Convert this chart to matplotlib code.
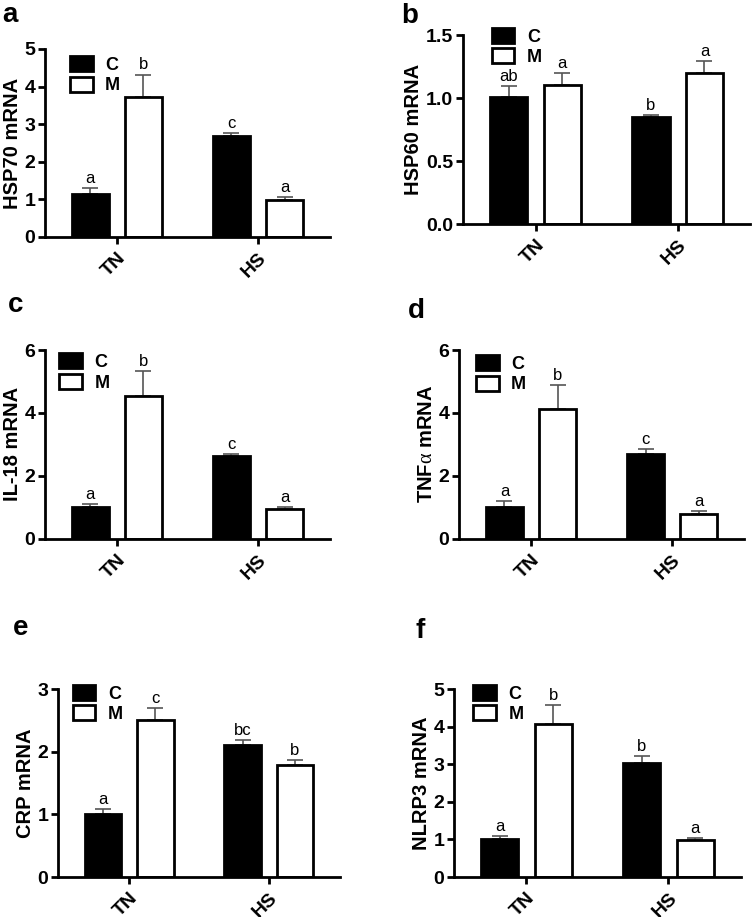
import matplotlib
matplotlib.use('Agg')
import matplotlib.pyplot as plt
from matplotlib.patches import Patch
import numpy as np

plt.rcParams['font.family'] = ['Liberation Sans', 'DejaVu Sans']
plt.rcParams['mathtext.fontset'] = 'custom'
plt.rcParams['mathtext.rm'] = 'Liberation Serif'
plt.rcParams['mathtext.it'] = 'Liberation Serif'

groups = ['TN', 'HS']
series = ['C', 'M']

# panel a - HSP70
hsp70_c = [1.14, 2.69]
hsp70_c_err = [0.16, 0.07]
hsp70_m = [3.73, 0.99]
hsp70_m_err = [0.59, 0.07]
hsp70_c_let = ['a', 'c']
hsp70_m_let = ['b', 'a']

# panel b - HSP60
hsp60_c = [1.005, 0.847]
hsp60_c_err = [0.09, 0.021]
hsp60_m = [1.10, 1.20]
hsp60_m_err = [0.096, 0.09]
hsp60_c_let = ['ab', 'b']
hsp60_m_let = ['a', 'a']

# panel c - IL-18
il18_c = [1.02, 2.62]
il18_c_err = [0.07, 0.06]
il18_m = [4.54, 0.94]
il18_m_err = [0.79, 0.08]
il18_c_let = ['a', 'c']
il18_m_let = ['b', 'a']

# panel d - TNFa
tnf_c = [1.02, 2.69]
tnf_c_err = [0.17, 0.17]
tnf_m = [4.14, 0.785]
tnf_m_err = [0.76, 0.085]
tnf_c_let = ['a', 'c']
tnf_m_let = ['b', 'a']

# panel e - CRP
crp_c = [1.01, 2.10]
crp_c_err = [0.08, 0.08]
crp_m = [2.51, 1.78]
crp_m_err = [0.18, 0.09]
crp_c_let = ['a', 'bc']
crp_m_let = ['c', 'b']

# panel f - NLRP3
nlrp3_c = [1.02, 3.03]
nlrp3_c_err = [0.06, 0.18]
nlrp3_m = [4.08, 0.975]
nlrp3_m_err = [0.49, 0.065]
nlrp3_c_let = ['a', 'b']
nlrp3_m_let = ['b', 'a']


def draw_panel(ax, c, c_err, m, m_err, c_let, m_let, ylabel, yticks,
               fmt, leg_xy):
    x = np.arange(len(groups))
    w = 0.262
    off = 0.188
    for vals, errs, lets, dx, fc in [(c, c_err, c_let, -off, 'black'),
                                     (m, m_err, m_let, off, 'white')]:
        ax.bar(x + dx, vals, w, color=fc, edgecolor='black', linewidth=2.0,
               zorder=2)
        ax.errorbar(x + dx, vals, yerr=[np.zeros(len(vals)), errs],
                    fmt='none', ecolor='#555555', elinewidth=1.2,
                    capsize=6, capthick=1.2, zorder=1)
        for xi, v, e, t in zip(x + dx, vals, errs, lets):
            ax.annotate(t, (xi, v + e), xytext=(0, 1.5),
                        textcoords='offset points', ha='center',
                        va='bottom', fontsize=12)
    ax.set_xlim(-0.51, 1.51)
    ax.set_ylim(0, yticks[-1])
    ax.set_yticks(yticks)
    ax.set_yticklabels([fmt.format(t) for t in yticks])
    ax.set_xticks(x)
    ax.set_xticklabels(groups, rotation=45, ha='right',
                       rotation_mode='anchor')
    for lab in ax.get_xticklabels() + ax.get_yticklabels():
        lab.set_fontweight('bold')
        lab.set_fontsize(14)
    ax.tick_params(axis='both', width=2, length=5, pad=2)
    ax.tick_params(axis='x', pad=4)
    for s in ['top', 'right']:
        ax.spines[s].set_visible(False)
    for s in ['left', 'bottom']:
        ax.spines[s].set_linewidth(2)
    ax.set_ylabel(ylabel, fontsize=14.5, fontweight='bold', labelpad=2)
    handles = [Patch(facecolor='black', edgecolor='black', linewidth=2),
               Patch(facecolor='white', edgecolor='black', linewidth=2)]
    ax.legend(handles, series, loc='upper left', bbox_to_anchor=leg_xy,
              frameon=False, borderpad=0, handlelength=1.25,
              handleheight=0.9, labelspacing=0.15, handletextpad=0.7,
              prop={'weight': 'bold', 'size': 13})


fig = plt.figure(figsize=(7.52, 9.17), dpi=100)

ax_a = fig.add_axes([0.0598, 0.7416, 0.379, 0.205])
draw_panel(ax_a, hsp70_c, hsp70_c_err, hsp70_m, hsp70_m_err, hsp70_c_let,
           hsp70_m_let, 'HSP70 mRNA', [0, 1, 2, 3, 4, 5], '{:d}',
           (0.056, 1.01))

ax_b = fig.add_axes([0.6157, 0.7557, 0.382, 0.2061])
draw_panel(ax_b, hsp60_c, hsp60_c_err, hsp60_m, hsp60_m_err, hsp60_c_let,
           hsp60_m_let, 'HSP60 mRNA', [0.0, 0.5, 1.0, 1.5], '{:.1f}',
           (0.069, 1.085))

ax_c = fig.add_axes([0.0598, 0.4125, 0.379, 0.2058])
draw_panel(ax_c, il18_c, il18_c_err, il18_m, il18_m_err, il18_c_let,
           il18_m_let, 'IL-18 mRNA', [0, 2, 4, 6], '{:d}', (0.018, 1.03))

ax_d = fig.add_axes([0.6104, 0.4125, 0.379, 0.2058])
draw_panel(ax_d, tnf_c, tnf_c_err, tnf_m, tnf_m_err, tnf_c_let,
           tnf_m_let, r'TNF$\mathrm{\alpha}$ mRNA', [0, 2, 4, 6], '{:d}',
           (0.028, 1.02))

ax_e = fig.add_axes([0.0771, 0.0436, 0.375, 0.205])
draw_panel(ax_e, crp_c, crp_c_err, crp_m, crp_m_err, crp_c_let,
           crp_m_let, 'CRP mRNA', [0, 1, 2, 3], '{:d}', (0.021, 1.07))

ax_f = fig.add_axes([0.6037, 0.0436, 0.3816, 0.205])
draw_panel(ax_f, nlrp3_c, nlrp3_c_err, nlrp3_m, nlrp3_m_err, nlrp3_c_let,
           nlrp3_m_let, 'NLRP3 mRNA', [0, 1, 2, 3, 4, 5], '{:d}',
           (0.035, 1.07))

# panel letters
for lab, px, py in [('a', 2, 22), ('b', 401, 23), ('c', 8, 312),
                    ('d', 408, 318), ('e', 13, 635), ('f', 416, 638)]:
    fig.text(px / 752, 1 - py / 917, lab, fontsize=20, fontweight='bold',
             ha='left', va='baseline')

fig.savefig('out.png', dpi=100)
